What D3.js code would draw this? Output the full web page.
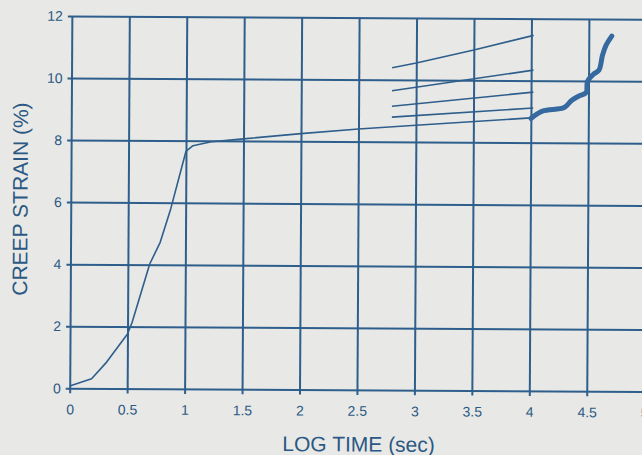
<!DOCTYPE html>
<html>
<head>
<meta charset="utf-8">
<script src="https://cdn.jsdelivr.net/npm/d3@7"></script>
<style>
  html, body { margin: 0; padding: 0; background: #e8e9e6; overflow: hidden; }
  svg { display: block; font-family: "Liberation Sans", Arial, sans-serif; }
</style>
</head>
<body>
<svg id="chart" width="642" height="455"></svg>
<script>
// Axis ticks
const xTickValues = [0, 0.5, 1, 1.5, 2, 2.5, 3, 3.5, 4, 4.5, 5];
const yTickValues = [0, 2, 4, 6, 8, 10, 12];

// Creep curve: log time (sec) vs creep strain (%)
const creepLogTime = [0, 0.19, 0.32, 0.5, 0.54, 0.69, 0.78, 0.87, 1.0, 1.06, 1.22, 1.5, 2.0, 2.5, 3.0, 4.0];
const creepStrain  = [0.07, 0.31, 0.85, 1.76, 2.14, 4.02, 4.72, 5.8, 7.66, 7.84, 7.97, 8.07, 8.25, 8.41, 8.54, 8.80];

// Tertiary (accelerating) portion
const tertiaryLogTime = [4.0, 4.1, 4.29, 4.35, 4.41, 4.48, 4.49, 4.54, 4.59, 4.62, 4.65, 4.70];
const tertiaryStrain  = [8.78, 9.02, 9.14, 9.36, 9.50, 9.63, 9.98, 10.21, 10.35, 10.83, 11.15, 11.45];

// Short fan of lines between log time 2.79 and 4.02
const fanATime = [2.79, 3.0, 3.5, 4.02];
const fanAStrain = [10.39, 10.55, 10.98, 11.46];
const fanBTime = [2.79, 4.02];
const fanBStrain = [9.65, 10.34];
const fanCTime = [2.79, 4.02];
const fanCStrain = [9.15, 9.63];
const fanDTime = [2.79, 4.02];
const fanDStrain = [8.80, 9.12];

const xTitle = "LOG TIME (sec)";
const yTitle = "CREEP STRAIN (%)";

const ink = "#2b5884";
const lineInk = "#2e5e8c";

const svg = d3.select("#chart");
svg.append("rect").attr("width", 642).attr("height", 455).attr("fill", "#e8e9e6");

// the printed sheet sits very slightly askew
const g = svg.append("g").attr("transform", "rotate(0.33,356,202)");

const x = d3.scaleLinear().domain([0, 5]).range([70.8, 645.3]);
const y = d3.scaleLinear().domain([0, 12]).range([389.9, 17.6]);
const plotW = x(5) - x(0);
const plotH = y(0) - y(12);

// vertical grid + outward ticks + labels
const xAxis = g.append("g")
  .attr("transform", `translate(0,${y(0) + 5})`)
  .call(d3.axisBottom(x).tickValues(xTickValues).tickFormat(d3.format("")).tickSize(-(plotH + 5)).tickPadding(11));
xAxis.select(".domain").remove();
xAxis.selectAll("line").attr("stroke", lineInk).attr("stroke-width", 2);
xAxis.selectAll("text").attr("fill", ink).attr("font-size", 14)
  .attr("font-family", "Liberation Sans, Arial, sans-serif");

// horizontal grid + outward ticks + labels
const yAxis = g.append("g")
  .attr("transform", `translate(${x(0) - 4},0)`)
  .call(d3.axisLeft(y).tickValues(yTickValues).tickSize(-(plotW + 4)).tickPadding(5));
yAxis.select(".domain").remove();
yAxis.selectAll("line").attr("stroke", lineInk).attr("stroke-width", 2);
yAxis.selectAll("text").attr("fill", ink).attr("font-size", 14)
  .attr("font-family", "Liberation Sans, Arial, sans-serif");

const line = d3.line().x(d => x(d[0])).y(d => y(d[1]));
const pairs = (t, s) => t.map((v, i) => [v, s[i]]);

// main creep curve
g.append("path").datum(pairs(creepLogTime, creepStrain))
  .attr("d", line).attr("fill", "none").attr("stroke", lineInk)
  .attr("stroke-width", 1.6).attr("stroke-linejoin", "round");

// fan lines
[[fanATime, fanAStrain], [fanBTime, fanBStrain], [fanCTime, fanCStrain], [fanDTime, fanDStrain]]
  .forEach(([t, s]) => {
    g.append("path").datum(pairs(t, s))
      .attr("d", line).attr("fill", "none").attr("stroke", lineInk)
      .attr("stroke-width", 1.6).attr("stroke-linejoin", "round");
  });

// tertiary creep, drawn heavy and hand-smoothed
g.append("path").datum(pairs(tertiaryLogTime, tertiaryStrain))
  .attr("d", d3.line().x(d => x(d[0])).y(d => y(d[1])).curve(d3.curveCatmullRom.alpha(0.5)))
  .attr("fill", "none").attr("stroke", "#3669a0")
  .attr("stroke-width", 5).attr("stroke-linejoin", "round").attr("stroke-linecap", "round");

// axis titles
g.append("text").attr("x", 360).attr("y", 451.5).attr("text-anchor", "middle")
  .attr("fill", ink).attr("font-size", 21).text(xTitle);
g.append("text").attr("transform", "translate(27.5,201) rotate(-90)").attr("text-anchor", "middle")
  .attr("fill", ink).attr("font-size", 21).text(yTitle);
</script>
</body>
</html>
